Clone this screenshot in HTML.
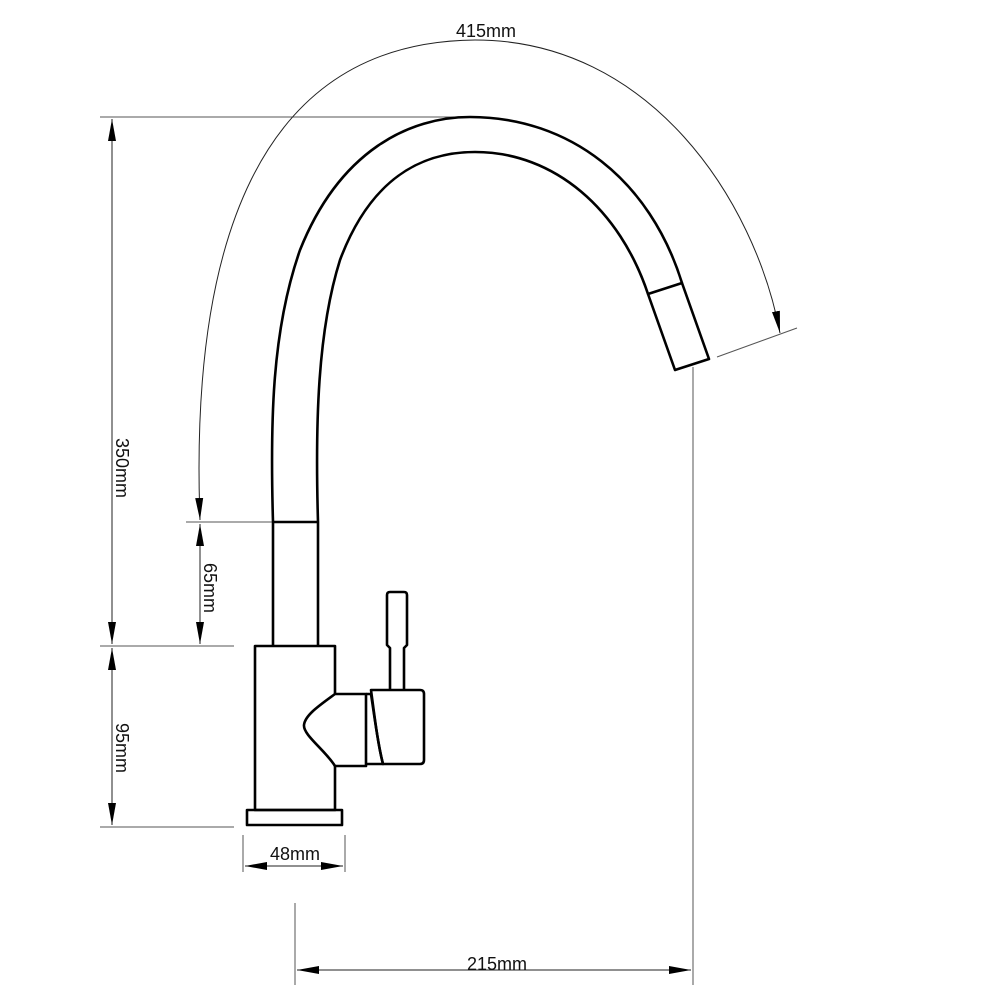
<!DOCTYPE html>
<html><head><style>body{margin:0;background:#fff}svg{display:block}</style></head>
<body>
<svg width="1000" height="1000" viewBox="0 0 1000 1000" xmlns="http://www.w3.org/2000/svg" font-family="Liberation Sans, sans-serif">
<defs>
<marker id="b" markerWidth="22" markerHeight="10" refX="22" refY="5" orient="auto-start-reverse" markerUnits="userSpaceOnUse" viewBox="0 0 22 10">
<path d="M0,1 L22,5 L0,9 Z" fill="#000"/></marker>
</defs>
<g stroke="#555" stroke-width="1" fill="none">
<line x1="100" y1="117" x2="480" y2="117"/>
<line x1="100" y1="646" x2="234" y2="646"/>
<line x1="100" y1="827" x2="234" y2="827"/>
<line x1="186" y1="522" x2="273" y2="522"/>
<line x1="717" y1="357" x2="797" y2="328"/>
<line x1="243" y1="835" x2="243" y2="872"/>
<line x1="345" y1="835" x2="345" y2="872"/>
<line x1="295" y1="903" x2="295" y2="985"/>
<line x1="693" y1="367" x2="693" y2="985"/>
</g>
<g stroke="#222" stroke-width="1" fill="none">
<line x1="112" y1="380" x2="112" y2="119" marker-end="url(#b)"/>
<line x1="112" y1="380" x2="112" y2="644" marker-end="url(#b)"/>
<line x1="112" y1="740" x2="112" y2="648" marker-end="url(#b)"/>
<line x1="112" y1="740" x2="112" y2="825" marker-end="url(#b)"/>
<line x1="200" y1="580" x2="200" y2="524" marker-end="url(#b)"/>
<line x1="200" y1="580" x2="200" y2="644" marker-end="url(#b)"/>
<line x1="294" y1="866" x2="245" y2="866" marker-end="url(#b)"/>
<line x1="294" y1="866" x2="343" y2="866" marker-end="url(#b)"/>
<line x1="494" y1="970" x2="297" y2="970" marker-end="url(#b)"/>
<line x1="494" y1="970" x2="691" y2="970" marker-end="url(#b)"/>
<path d="M200,520 C190,250 255,42 475,40 C650,40 755,200 780,333" marker-start="url(#b)" marker-end="url(#b)"/>
</g>
<g stroke="#000" stroke-width="2.6" fill="none" stroke-linejoin="round">
<path d="M273,522 C270,420 272,330 300,250 C340,150 410,117 470,117 C570,117 650,180 682,283"/>
<path d="M318,522 C315,420 318,330 340,260 C370,180 420,152 475,152 C555,152 620,210 648,294"/>
<line x1="273" y1="522" x2="318" y2="522"/>
<path d="M648,294 L682,283 L709,359 L675,370 Z"/>
<line x1="273" y1="522" x2="273" y2="646"/>
<line x1="318" y1="522" x2="318" y2="646"/>
<path d="M335,694 L335,646 L255,646 L255,810 L335,810 L335,766"/>
<rect x="247" y="810" width="95" height="15"/>
<path d="M335,694 C320,705 305,715 304,725 C303,735 325,750 335,766 L366,766 L366,694 Z"/>
<path d="M366,694 L371,694 C375,720 378,745 383,764 L366,764"/>
<path d="M371,690 L420,690 Q424,690 424,694 L424,760 Q424,764 420,764 L383,764 C378,745 375,720 371,690 Z"/>
<path d="M390,690 L390,648 L387,645 L387,595 Q387,592 390,592 L404,592 Q407,592 407,595 L407,645 L404,648 L404,690"/>
</g>
<g font-size="18" fill="#111">
<text x="486" y="37" text-anchor="middle">415mm</text>
<text x="295" y="860" text-anchor="middle">48mm</text>
<text x="497" y="970" text-anchor="middle">215mm</text>
<text transform="translate(116,468) rotate(90)" text-anchor="middle">350mm</text>
<text transform="translate(204,588) rotate(90)" text-anchor="middle">65mm</text>
<text transform="translate(116,748) rotate(90)" text-anchor="middle">95mm</text>
</g>
</svg>
</body></html>
